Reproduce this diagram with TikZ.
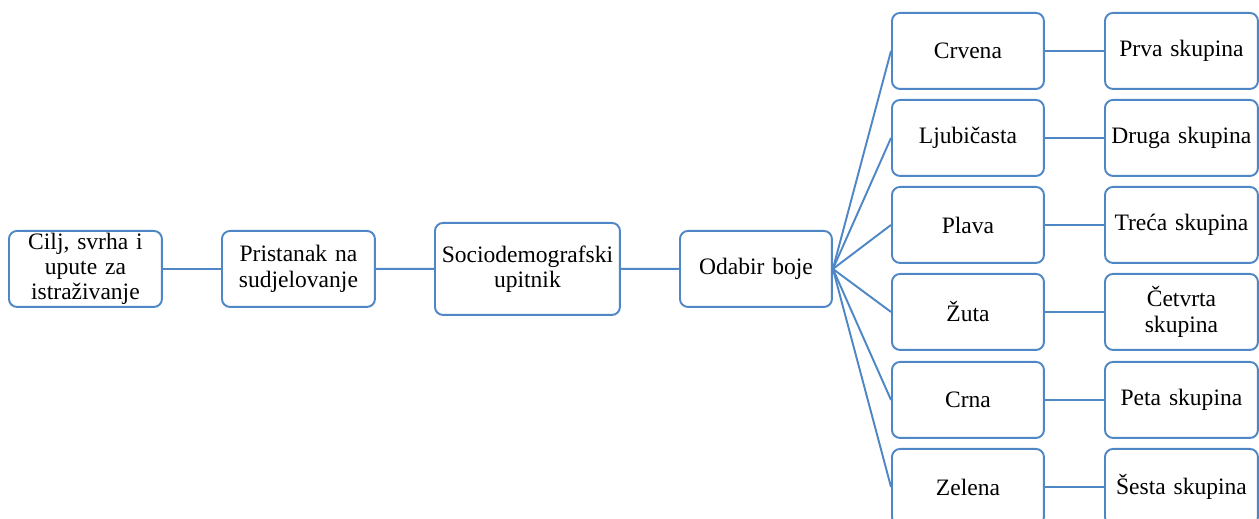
\documentclass[tikz,border=0pt]{standalone}
\usepackage{fontspec}
\setmainfont{Liberation Serif}
\definecolor{lineblue}{HTML}{4F87C6}
\begin{document}
\begin{tikzpicture}[x=0.02cm,y=-0.02cm,
  box/.style={draw=lineblue, line width=1.1pt, rounded corners=0.16cm, fill=white,
    anchor=north west, align=center, inner sep=1pt,
    font=\fontsize{13.4pt}{14.4pt}\selectfont,
    minimum width=3.06cm, minimum height=1.52cm, text width=2.95cm},
  conn/.style={draw=lineblue, line width=1.1pt}]
\useasboundingbox (0,0) rectangle (1259,519);
\clip (0,0) rectangle (1259,519);
\node[box] (cilj) at (8,230) {Cilj, svrha i\\upute za\\istraživanje};
\node[box] (prist) at (221,230) {Pristanak na\\sudjelovanje};
\node[box, minimum width=3.7cm, text width=3.6cm, minimum height=1.84cm] (socio) at (434,222) {Sociodemografski\\upitnik};
\node[box, minimum width=3.04cm] (odabir) at (679,230) {Odabir boje};
\node[box, minimum width=3.04cm] (c1) at (891,12) {Crvena};
\node[box, minimum width=3.04cm] (c2) at (891,99) {Ljubičasta};
\node[box, minimum width=3.04cm] (c3) at (891,186) {Plava};
\node[box, minimum width=3.04cm] (c4) at (891,273) {Žuta};
\node[box, minimum width=3.04cm] (c5) at (891,361) {Crna};
\node[box, minimum width=3.04cm] (c6) at (891,448) {Zelena};
\node[box] (s1) at (1104,12) {Prva skupina};
\node[box] (s2) at (1104,99) {Druga skupina};
\node[box] (s3) at (1104,186) {Treća skupina};
\node[box] (s4) at (1104,273) {Četvrta\\skupina};
\node[box] (s5) at (1104,361) {Peta skupina};
\node[box] (s6) at (1104,448) {Šesta skupina};
\draw[conn] (cilj.east) -- (prist.west);
\draw[conn] (prist.east) -- (socio.west);
\draw[conn] (socio.east) -- (odabir.west);
\foreach \i in {1,...,6} {
  \draw[conn] (odabir.east) -- (c\i.west);
  \draw[conn] (c\i.east) -- (s\i.west);
}
\end{tikzpicture}
\end{document}
